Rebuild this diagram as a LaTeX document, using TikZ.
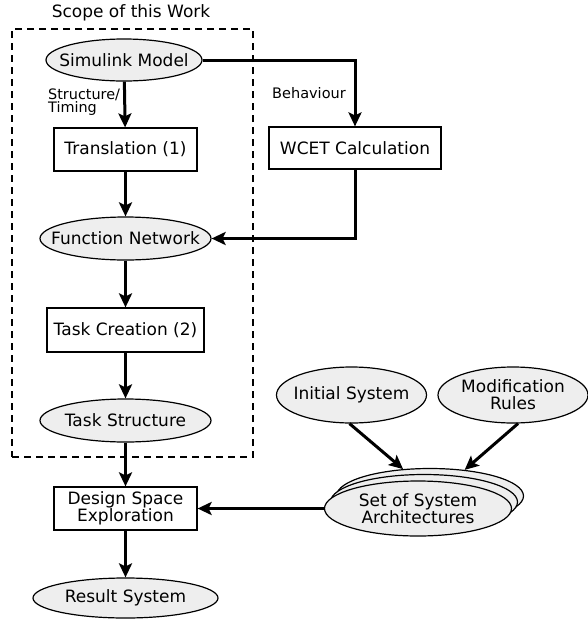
\documentclass[tikz,border=0pt]{standalone}
\usepackage{fontspec}
\setmainfont{DejaVu Sans}
\usetikzlibrary{shapes.geometric,arrows.meta}
\definecolor{nodefill}{RGB}{238,238,238}
\tikzset{
  mainfont/.style={font=\fontsize{17}{17}\selectfont},
  elltext/.style={inner sep=0pt, align=center, mainfont},
  % ellipse of fixed size; its text sits on top as a centred label
  ell/.style={ellipse, draw, line width=1.2pt, fill=nodefill, inner sep=0pt,
    label={[elltext]center:{#1}}},
  ell/.default={},
  box/.style={rectangle, draw, line width=1.2pt, fill=white, inner sep=0pt,
    align=center, mainfont},
  arr/.style={line width=3pt, -{Stealth[length=14pt,width=13pt,inset=3pt]}},
  lbl/.style={inner sep=0pt, align=left, font=\fontsize{14.4}{13}\selectfont},
  scopeframe/.style={draw, line width=2.2pt, dash pattern=on 7pt off 5pt, inner sep=0pt},
}
\begin{document}
\begin{tikzpicture}[x=1pt, y=-1pt]
\useasboundingbox (0,0) rectangle (588,619);

% scope frame and its title
\node[scopeframe, minimum width=241pt, minimum height=428pt] (scope) at (132.5,243) {};
\node[inner sep=0pt, mainfont] (scopetitle) at (131,13) {Scope of this Work};

% main chain
\node[ell={Simulink Model}, minimum width=156pt, minimum height=42pt] (sim) at (124,60) {};
\node[box, minimum width=143pt, minimum height=43pt] (trans) at (125.5,149.5) {Translation (1)};
\node[ell={Function Network}, minimum width=171pt, minimum height=43pt] (fn) at (125.5,238.5) {};
\node[box, minimum width=157pt, minimum height=44pt] (tc) at (125.5,330) {Task Creation (2)};
\node[ell={Task Structure}, minimum width=171pt, minimum height=43pt] (ts) at (125.5,420.5) {};
\node[box, minimum width=143pt, minimum height=43pt] (dse) at (125.5,508.5) {Design Space\\Exploration};
\node[ell={Result System}, minimum width=185pt, minimum height=40pt] (res) at (125.5,598) {};

% WCET branch
\node[box, minimum width=172pt, minimum height=42pt] (wcet) at (355,148) {WCET Calculation};

% architecture inputs
\node[ell={Initial System}, minimum width=150pt, minimum height=56pt] (init) at (351.5,395) {};
\node[ell={Modification\\Rules}, minimum width=150pt, minimum height=56pt] (mod) at (513,395) {};

% stack of architectures
\node[ell, minimum width=187pt, minimum height=55pt] (sab) at (430,496) {};
\node[ell, minimum width=187pt, minimum height=55pt] (sam) at (424,502) {};
\node[ell={Set of System\\Architectures}, minimum width=187pt, minimum height=55pt] (saf) at (418,508.5) {};

% edge labels
\node[lbl, anchor=north west] (stlbl) at (48,89) {Structure/\\Timing};
\node[lbl, font=\fontsize{14.5}{14.5}\selectfont] (behlbl) at (309,93) {Behaviour};

% connectors
\draw[arr] (sim) -- (trans);
\draw[arr] (trans) -- (fn);
\draw[arr] (fn) -- (tc);
\draw[arr] (tc) -- (ts);
\draw[arr] (ts) -- (dse);
\draw[arr] (dse) -- (res);
\draw[arr] (sim.east) -| (wcet.north);
\draw[arr] (wcet.south) |- (fn.east);
\draw[arr] (init.266) -- (sab.135);
\draw[arr] (mod.-80) -- (sab.37);
\draw[arr] (saf.west) -- (dse.east);
\end{tikzpicture}
\end{document}
